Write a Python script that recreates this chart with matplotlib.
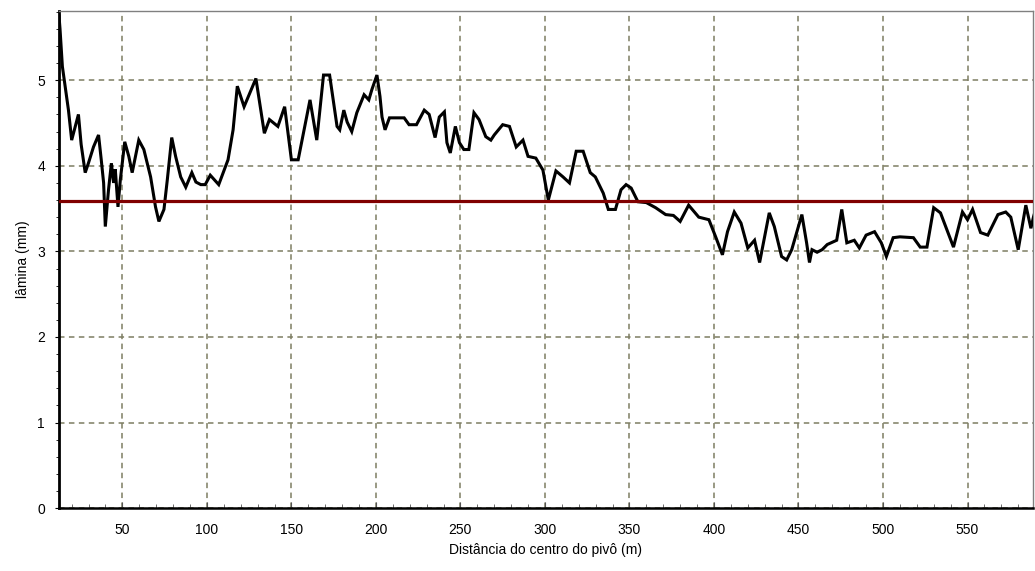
import matplotlib
matplotlib.use("Agg")
import matplotlib.pyplot as plt
from matplotlib.ticker import MultipleLocator

plt.rcParams['font.family'] = ['Liberation Sans', 'DejaVu Sans']

# distance from pivot centre (m) and applied depth (mm)
dist = [12.5, 13.1, 14.5, 16.1, 18.1, 20.0, 21.6, 24.0, 25.6, 28.0, 29.9, 32.9,
        35.9, 37.5, 38.9, 39.9, 40.9, 41.8, 43.5, 44.8, 45.8, 47.4, 48.8, 51.4,
        53.8, 55.8, 59.7, 62.7, 66.7, 69.6, 71.6, 74.6, 76.6, 79.2, 81.5, 84.5,
        87.5, 91.1, 93.5, 96.4, 99, 102, 107, 112.5, 115.5, 118, 122, 129,
        134, 137, 142, 146, 150, 154, 161, 165, 169, 172.6, 177, 178.6,
        181, 183, 185.7, 188.7, 193, 195.8, 197.6, 200.6, 202.4, 203.6, 205.4, 208,
        216.7, 219.6, 224, 228.6, 231.5, 235, 237.5, 240.5, 242, 244, 247, 249.4,
        252, 255, 258, 261, 265, 268, 270, 275, 279, 283, 287, 290,
        294.6, 298.8, 302, 306.5, 310.7, 314.5, 318.5, 322.6, 326.8, 329.8, 334.5, 337.5,
        341.7, 345, 348, 351, 355, 360, 365.5, 371.4, 376, 380, 385, 391,
        397, 401, 405, 408, 412, 416, 420, 424, 427, 432.7, 435.7, 440,
        443, 446, 452, 454.8, 456.5, 458, 461, 464, 467, 472.6, 475.6, 478.6,
        483, 486, 490, 495, 499, 502, 506, 510, 518, 522, 526, 530,
        534, 541.7, 547, 550, 553, 557.7, 562, 568, 572.6, 575.6, 580, 584.5,
        587.5, 589, 591]
lamina = [5.75, 5.60, 5.16, 4.93, 4.65, 4.30, 4.42, 4.60, 4.25, 3.92, 4.03, 4.22,
          4.36, 4.07, 3.80, 3.29, 3.52, 3.72, 4.03, 3.80, 3.96, 3.52, 3.84, 4.28,
          4.11, 3.92, 4.30, 4.19, 3.87, 3.52, 3.35, 3.49, 3.84, 4.33, 4.11, 3.87,
          3.75, 3.92, 3.81, 3.78, 3.78, 3.89, 3.78, 4.07, 4.42, 4.93, 4.69, 5.02,
          4.38, 4.54, 4.46, 4.69, 4.07, 4.07, 4.77, 4.30, 5.06, 5.06, 4.46, 4.42,
          4.65, 4.51, 4.40, 4.62, 4.83, 4.77, 4.89, 5.06, 4.81, 4.57, 4.42, 4.56,
          4.56, 4.48, 4.48, 4.65, 4.60, 4.33, 4.57, 4.63, 4.27, 4.15, 4.46, 4.27,
          4.19, 4.19, 4.62, 4.54, 4.34, 4.30, 4.36, 4.48, 4.46, 4.22, 4.30, 4.11,
          4.09, 3.95, 3.60, 3.94, 3.87, 3.80, 4.17, 4.17, 3.92, 3.87, 3.68, 3.49,
          3.49, 3.72, 3.78, 3.74, 3.58, 3.57, 3.51, 3.43, 3.42, 3.35, 3.54, 3.40,
          3.37, 3.17, 2.96, 3.23, 3.46, 3.33, 3.04, 3.13, 2.87, 3.45, 3.29, 2.94,
          2.90, 3.02, 3.43, 3.10, 2.87, 3.02, 2.99, 3.02, 3.08, 3.13, 3.49, 3.10,
          3.13, 3.04, 3.19, 3.23, 3.10, 2.94, 3.16, 3.17, 3.16, 3.05, 3.05, 3.51,
          3.45, 3.05, 3.46, 3.37, 3.49, 3.22, 3.19, 3.43, 3.46, 3.40, 3.02, 3.54,
          3.27, 3.40, 3.54]
media = 3.59

fig = plt.figure(figsize=(10.35, 5.71), dpi=100)
ax = fig.add_axes([0.057, 0.110, 0.941, 0.871])

ax.plot(dist, lamina, color='black', lw=2.2, solid_joinstyle='miter', zorder=3)
ax.axhline(media, color='#800000', lw=2.3, zorder=4)

ax.set_xlim(12.5, 588.7)
ax.set_ylim(0, 5.81)
ax.xaxis.set_major_locator(MultipleLocator(50))
ax.xaxis.set_minor_locator(MultipleLocator(10))
ax.yaxis.set_major_locator(MultipleLocator(1))
ax.yaxis.set_minor_locator(MultipleLocator(0.2))

ax.grid(True, which='major', color='#7d7d62', lw=1.1, linestyle=(0, (3.6, 2.9)))
ax.set_axisbelow(True)

ax.tick_params(axis='x', which='major', direction='in', length=4, pad=11,
               labelsize=10, color='#555555')
ax.tick_params(axis='x', which='minor', direction='in', length=3, color='#555555')
ax.tick_params(axis='y', which='major', direction='out', length=3, pad=7,
               labelsize=10)
ax.tick_params(axis='y', which='minor', direction='out', length=2)

for side in ['top', 'right']:
    ax.spines[side].set_color('#808080')
    ax.spines[side].set_linewidth(1)
ax.spines['left'].set_linewidth(2)
ax.spines['bottom'].set_linewidth(1.8)

ax.set_xlabel('Distância do centro do pivô (m)', fontsize=10, labelpad=4)
ax.set_ylabel('lâmina (mm)', fontsize=10, labelpad=5)

fig.savefig('out.png', dpi=100)
